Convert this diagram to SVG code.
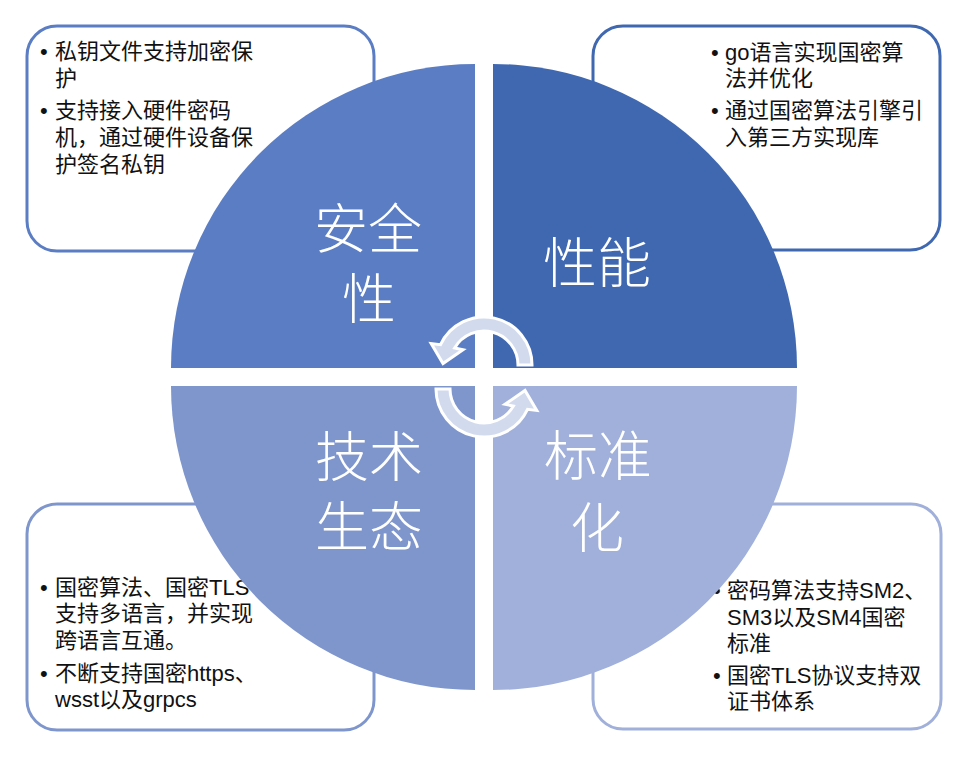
<svg xmlns="http://www.w3.org/2000/svg" width="972" height="762" viewBox="0 0 972 762">
<style>
.box{fill:#fff;stroke-width:3}
.t{font-family:"Liberation Sans","Noto Sans CJK SC",sans-serif;font-size:22px;fill:#111}
.big{font-family:"Noto Sans CJK SC",sans-serif;font-weight:300;font-size:54px;fill:#fff;text-anchor:middle}
.arr{fill:#d2daee;stroke:#fff;stroke-width:3;stroke-linejoin:miter}
</style>
<rect width="972" height="762" fill="#fff"/>
<g id="box-security">
<rect class="box" x="27" y="26" width="347" height="225" rx="30" stroke="#5b7dc3"/>
<text class="t"><tspan x="40" y="59">•</tspan><tspan x="55" y="59">私钥文件支持加密保</tspan><tspan x="55" y="86">护</tspan><tspan x="40" y="118">•</tspan><tspan x="55" y="118">支持接入硬件密码</tspan><tspan x="55" y="145">机，通过硬件设备保</tspan><tspan x="55" y="172">护签名私钥</tspan></text>
</g>
<g id="box-performance">
<rect class="box" x="593" y="26" width="347" height="224" rx="30" stroke="#3f68b1"/>
<text class="t"><tspan x="711" y="60">•</tspan><tspan x="725" y="60">go语言实现国密算</tspan><tspan x="725" y="86">法并优化</tspan><tspan x="711" y="118">•</tspan><tspan x="725" y="118">通过国密算法引擎引</tspan><tspan x="725" y="145">入第三方实现库</tspan></text>
</g>
<g id="box-ecosystem">
<rect class="box" x="27" y="504" width="347" height="226" rx="30" stroke="#7f96cd"/>
<text class="t"><tspan x="40" y="595">•</tspan><tspan x="55" y="595">国密算法、国密TLS</tspan><tspan x="55" y="621">支持多语言，并实现</tspan><tspan x="55" y="648">跨语言互通。</tspan><tspan x="40" y="681">•</tspan><tspan x="55" y="681">不断支持国密https、</tspan><tspan x="55" y="707">wsst以及grpcs</tspan></text>
</g>
<g id="box-standard">
<rect class="box" x="593" y="504" width="348" height="225" rx="30" stroke="#a0b0da"/>
<text class="t"><tspan x="713" y="598">•</tspan><tspan x="727" y="598">密码算法支持SM2、</tspan><tspan x="727" y="625">SM3以及SM4国密</tspan><tspan x="727" y="651">标准</tspan><tspan x="713" y="683">•</tspan><tspan x="727" y="683">国密TLS协议支持双</tspan><tspan x="727" y="709">证书体系</tspan></text>
</g>
<g id="q-security">
<path d="M475,368 L171,368 A304,304 0 0 1 475,64 Z" fill="#5b7dc3"/>
<text class="big"><tspan x="368" y="249">安全</tspan><tspan x="369" y="319">性</tspan></text>
</g>
<g id="q-performance">
<path d="M493,368 L493,64 A304,304 0 0 1 797,368 Z" fill="#3f68b1"/>
<text class="big" x="597" y="283">性能</text>
</g>
<g id="q-ecosystem">
<path d="M475,386 L475,690 A304,304 0 0 1 171,386 Z" fill="#7f96cd"/>
<text class="big"><tspan x="369" y="477">技术</tspan><tspan x="369" y="547">生态</tspan></text>
</g>
<g id="q-standard">
<path d="M493,386 L797,386 A304,304 0 0 1 493,690 Z" fill="#a0b0da"/>
<text class="big"><tspan x="598" y="476">标准</tspan><tspan x="597" y="548">化</tspan></text>
</g>
<g id="connectors">
<path class="arr" d="M532,365 A48,48 0 0 0 440.5,344.7 L431.2,343.6 L443,363.6 L463,349.7 L454.6,348 A34,34 0 0 1 518,365 Z"/>
<path class="arr" transform="rotate(180 484 377)" d="M532,365 A48,48 0 0 0 440.5,344.7 L431.2,343.6 L443,363.6 L463,349.7 L454.6,348 A34,34 0 0 1 518,365 Z"/>
</g>
</svg>
